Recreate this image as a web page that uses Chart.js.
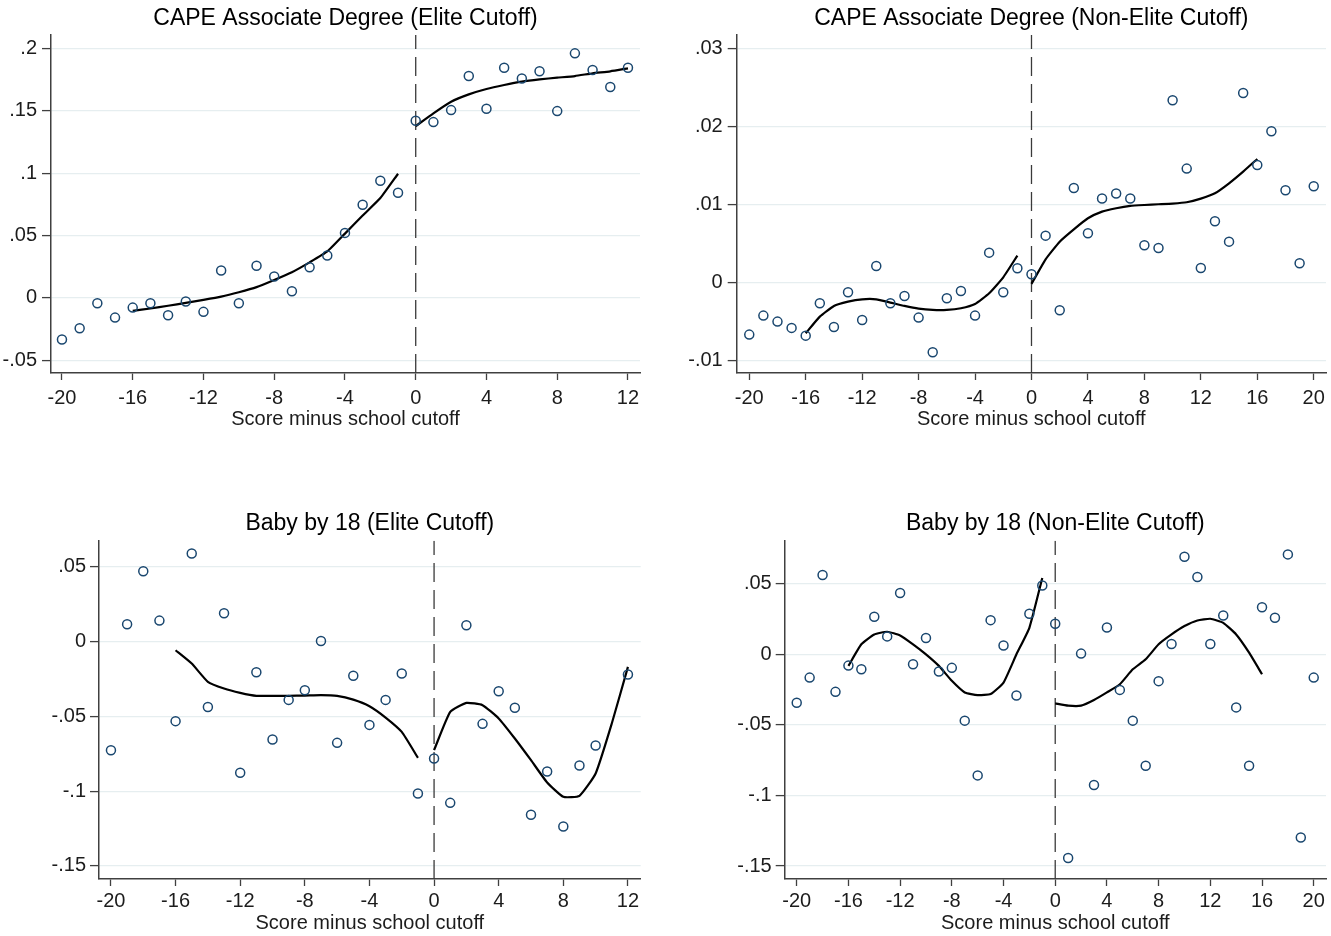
<!DOCTYPE html>
<html>
<head>
<meta charset="utf-8">
<script src="https://cdn.jsdelivr.net/npm/chart.js@4.4.1/dist/chart.umd.min.js"></script>
<style>
  html, body { margin: 0; padding: 0; background: #ffffff; overflow: hidden; }
  body { width: 1331px; height: 936px; position: relative; }
  canvas { position: absolute; }
</style>
</head>
<body>
<canvas id="c1" width="660" height="440" style="left:0px;top:0px;"></canvas>
<canvas id="c2" width="661" height="440" style="left:670px;top:0px;"></canvas>
<canvas id="c3" width="660" height="436" style="left:0px;top:500px;"></canvas>
<canvas id="c4" width="661" height="436" style="left:670px;top:500px;"></canvas>
<script>
// ---------------- DATA ----------------
const titles = [
  "CAPE Associate Degree (Elite Cutoff)",
  "CAPE Associate Degree (Non-Elite Cutoff)",
  "Baby by 18 (Elite Cutoff)",
  "Baby by 18 (Non-Elite Cutoff)"
];
const xAxisTitle = "Score minus school cutoff";

// Panel 1: CAPE Associate Degree (Elite Cutoff)
const capeEliteX = [-20,-19,-18,-17,-16,-15,-14,-13,-12,-11,-10,-9,-8,-7,-6,-5,-4,-3,-2,-1,0,1,2,3,4,5,6,7,8,9,10,11,12];
const capeEliteY = [-0.0334,-0.0243,-0.0043,-0.0158,-0.0078,-0.0043,-0.0139,-0.0029,-0.0112,0.0219,-0.0043,0.0257,0.0171,0.0053,0.0246,0.0340,0.0521,0.0746,0.0939,0.0842,
                    0.1420,0.1409,0.1505,0.1778,0.1516,0.1845,0.1759,0.1816,0.1497,0.1960,0.1826,0.1690,0.1845];
const capeEliteFitLX = [-16,-15,-14,-13,-12,-11,-10,-9,-8,-7,-6,-5,-4,-3,-2,-1];
const capeEliteFitLY = [-0.0104,-0.0085,-0.0063,-0.0040,-0.0016,0.0010,0.0045,0.0086,0.0144,0.0206,0.0285,0.0372,0.0515,0.0660,0.0800,0.0995];
const capeEliteFitRX = [0,1,2,3,4,5,6,7,8,9,10,11,12];
const capeEliteFitRY = [0.1377,0.1479,0.1572,0.1631,0.1674,0.1706,0.1733,0.1751,0.1765,0.1778,0.1800,0.1816,0.1840];
const capeEliteXTicks = [-20,-16,-12,-8,-4,0,4,8,12];
const capeEliteYTicks = [-0.05,0,0.05,0.1,0.15,0.2];
const capeEliteYLabels = ["-.05","0",".05",".1",".15",".2"];
const capeEliteXRange = [-20.62, 12.68];
const capeEliteYRange = [-0.0602, 0.2107];

// Panel 2: CAPE Associate Degree (Non-Elite Cutoff)
const capeNonX = [-20,-19,-18,-17,-16,-15,-14,-13,-12,-11,-10,-9,-8,-7,-6,-5,-4,-3,-2,-1,0,1,2,3,4,5,6,7,8,9,10,11,12,13,14,15,16,17,18,19,20];
const capeNonY = [-0.00671,-0.00427,-0.00504,-0.00585,-0.00684,-0.00269,-0.00573,-0.00128,-0.00483,0.00209,-0.00269,-0.00175,-0.00453,-0.00897,-0.00205,-0.00111,-0.00427,0.00380,-0.00128,0.00179,
                  0.00103,0.00598,-0.00359,0.01209,0.00628,0.01073,0.01137,0.01073,0.00474,0.00440,0.02333,0.01457,0.00184,0.00782,0.00521,0.02427,0.01504,0.01936,0.01179,0.00244,0.01231];
const capeNonFitLX = [-16,-15,-14,-13,-12,-11,-10,-9,-8,-7,-6,-5,-4,-3,-2,-1];
const capeNonFitLY = [-0.00654,-0.00440,-0.00303,-0.00248,-0.00218,-0.00218,-0.00260,-0.00303,-0.00338,-0.00355,-0.00355,-0.00333,-0.00278,-0.00141,0.00064,0.00342];
const capeNonFitRX = [0,1,2,3,4,5,6,7,8,9,10,11,12,13,14,15,16];
const capeNonFitRY = [-0.00021,0.00295,0.00521,0.00679,0.00821,0.00906,0.00949,0.00979,0.00991,0.01000,0.01009,0.01026,0.01073,0.01141,0.01269,0.01419,0.01581];
const capeNonXTicks = [-20,-16,-12,-8,-4,0,4,8,12,16,20];
const capeNonYTicks = [-0.01,0,0.01,0.02,0.03];
const capeNonYLabels = ["-.01","0",".01",".02",".03"];
const capeNonXRange = [-20.89, 20.87];
const capeNonYRange = [-0.01163, 0.0317];

// Panel 3: Baby by 18 (Elite Cutoff)
const babyEliteX = [-20,-19,-18,-17,-16,-15,-14,-13,-12,-11,-10,-9,-8,-7,-6,-5,-4,-3,-2,-1,0,1,2,3,4,5,6,7,8,9,10,12];
const babyEliteY = [-0.0726,0.0116,0.0470,0.0140,-0.0532,0.0588,-0.0437,0.0189,-0.0877,-0.0205,-0.0655,-0.0390,-0.0325,0.0004,-0.0677,-0.0229,-0.0557,-0.0390,-0.0214,-0.1016,
                    -0.0782,-0.1078,0.0109,-0.0550,-0.0332,-0.0443,-0.1158,-0.0869,-0.1236,-0.0829,-0.0695,-0.0220];
const babyEliteFitLX = [-16,-15,-14,-13,-12,-11,-10,-9,-8,-7,-6,-5,-4,-3,-2,-1];
const babyEliteFitLY = [-0.0058,-0.0147,-0.0269,-0.0314,-0.0343,-0.0363,-0.0363,-0.0363,-0.0361,-0.0358,-0.0363,-0.0388,-0.0432,-0.0508,-0.0604,-0.0777];
const babyEliteFitRX = [0,1,2,3,4,5,6,7,8,9,10,11,12];
const babyEliteFitRY = [-0.0726,-0.0470,-0.0410,-0.0425,-0.0514,-0.0648,-0.0793,-0.0942,-0.1038,-0.1031,-0.0882,-0.0548,-0.0169];
const babyEliteXTicks = [-20,-16,-12,-8,-4,0,4,8,12];
const babyEliteYTicks = [-0.15,-0.1,-0.05,0,0.05];
const babyEliteYLabels = ["-.15","-.1","-.05","0",".05"];
const babyEliteXRange = [-20.74, 12.79];
const babyEliteYRange = [-0.1587, 0.0674];

// Panel 4: Baby by 18 (Non-Elite Cutoff)
const babyNonX = [-20,-19,-18,-17,-16,-15,-14,-13,-12,-11,-10,-9,-8,-7,-6,-5,-4,-3,-2,-1,0,1,2,3,4,5,6,7,8,9,10,11,12,13,14,15,16,17,18,19,20];
const babyNonY = [-0.0343,-0.0165,0.0562,-0.0266,-0.0080,-0.0106,0.0266,0.0127,0.0435,-0.0071,0.0115,-0.0122,-0.0096,-0.0470,-0.0858,0.0242,0.0063,-0.0292,0.0287,0.0487,
                  0.0216,-0.1443,0.0005,-0.0926,0.0190,-0.0252,-0.0470,-0.0790,-0.0190,0.0073,0.0691,0.0548,0.0073,0.0275,-0.0376,-0.0790,0.0334,0.0259,0.0708,-0.1298,-0.0165];
const babyNonFitLX = [-16,-15,-14,-13,-12,-11,-10,-9,-8,-7,-6,-5,-4,-3,-2,-1];
const babyNonFitLY = [-0.0082,0.0071,0.0141,0.0160,0.0134,0.0071,0.0000,-0.0082,-0.0188,-0.0270,-0.0289,-0.0282,-0.0200,0.0000,0.0188,0.0541];
const babyNonFitRX = [0,1,2,3,4,5,6,7,8,9,10,11,12,13,14,15,16];
const babyNonFitRY = [-0.0348,-0.0364,-0.0364,-0.0324,-0.0270,-0.0212,-0.0106,-0.0035,0.0071,0.0141,0.0200,0.0240,0.0252,0.0223,0.0141,0.0012,-0.0141];
const babyNonXTicks = [-20,-16,-12,-8,-4,0,4,8,12,16,20];
const babyNonYTicks = [-0.15,-0.1,-0.05,0,0.05];
const babyNonYLabels = ["-.15","-.1","-.05","0",".05"];
const babyNonXRange = [-20.93, 20.95];
const babyNonYRange = [-0.1592, 0.0805];

const cutoffValue = 0;

// ---------------- STYLE ----------------
const FONT = "'Liberation Sans', Arial, Helvetica, sans-serif";
const markerColor = '#1a476f';
const fitColor = '#000000';
const axisColor = '#404040';
const gridColor = '#e6eef0';
const textColor = '#1c1c1c';

function zip(xs, ys) { return xs.map((x, i) => ({ x: x, y: ys[i] })); }

function makeChart(id, p) {
  const yTickVals = p.yTicks;
  const yTickLab = p.yLabels;
  const xTickVals = p.xTicks;
  return new Chart(document.getElementById(id), {
    type: 'scatter',
    data: {
      datasets: [
        { // cutoff line
          type: 'line',
          data: [{ x: cutoffValue, y: p.yRange[0] }, { x: cutoffValue, y: p.yRange[1] }],
          borderColor: '#3a3a3a', borderWidth: 1.3, borderDash: [19, 8],
          pointRadius: 0, fill: false, order: 3
        },
        {
          type: 'line', data: zip(p.fitLX, p.fitLY),
          borderColor: fitColor, borderWidth: 2.2, pointRadius: 0, tension: 0.15, fill: false, order: 2
        },
        {
          type: 'line', data: zip(p.fitRX, p.fitRY),
          borderColor: fitColor, borderWidth: 2.2, pointRadius: 0, tension: 0.15, fill: false, order: 2
        },
        {
          data: zip(p.x, p.y),
          pointStyle: 'circle', pointRadius: 4.5, borderWidth: 1.5,
          borderColor: markerColor, backgroundColor: 'rgba(255,255,255,0)', order: 1
        }
      ]
    },
    options: {
      responsive: false,
      animation: false,
      devicePixelRatio: 1,
      events: [],
      layout: { autoPadding: false, padding: { left: 0, right: p.padRight, top: 0, bottom: 0 } },
      plugins: {
        legend: { display: false },
        tooltip: { enabled: false },
        title: {
          display: true, text: p.title, fullSize: false, color: '#000000',
          font: { family: FONT, size: 23, weight: 'normal', lineHeight: 1.2 },
          padding: { top: p.titleTop, bottom: p.titleBottom }
        }
      },
      scales: {
        x: {
          type: 'linear', position: 'bottom',
          min: p.xRange[0], max: p.xRange[1],
          afterBuildTicks: s => { s.ticks = xTickVals.map(v => ({ value: v })); },
          afterFit: s => { s.height = p.xHeight; },
          grid: { drawOnChartArea: false, drawTicks: true, tickLength: 7, tickColor: axisColor, tickWidth: 1.3 },
          border: { display: true, color: axisColor, width: 1.5 },
          ticks: { color: textColor, font: { family: FONT, size: 20 }, padding: p.xTickPad, maxRotation: 0, autoSkip: false,
                   callback: v => String(v) },
          title: { display: true, text: xAxisTitle, color: textColor, font: { family: FONT, size: 20 },
                   padding: { top: 0, bottom: p.xTitlePad } }
        },
        y: {
          type: 'linear', position: 'left',
          min: p.yRange[0], max: p.yRange[1],
          afterBuildTicks: s => { s.ticks = yTickVals.map(v => ({ value: v })); },
          afterFit: s => { s.width = p.yWidth; },
          grid: { drawOnChartArea: true, color: gridColor, lineWidth: 1.2, drawTicks: true, tickLength: 9, tickColor: axisColor, tickWidth: 1.3 },
          border: { display: true, color: axisColor, width: 1.5 },
          ticks: { color: textColor, font: { family: FONT, size: 20 }, padding: p.yTickPad, autoSkip: false,
                   callback: (v) => { const i = yTickVals.findIndex(t => Math.abs(t - v) < 1e-9); return i >= 0 ? yTickLab[i] : ''; } }
        }
      }
    }
  });
}

makeChart('c1', {
  title: titles[0], x: capeEliteX, y: capeEliteY,
  fitLX: capeEliteFitLX, fitLY: capeEliteFitLY, fitRX: capeEliteFitRX, fitRY: capeEliteFitRY,
  xTicks: capeEliteXTicks, yTicks: capeEliteYTicks, yLabels: capeEliteYLabels,
  xRange: capeEliteXRange, yRange: capeEliteYRange,
  padRight: 20, yWidth: 51, xHeight: 67, titleTop: 4.7, titleBottom: 2.7, xTickPad: 6, xTitlePad: 8.5, yTickPad: 5
});
makeChart('c2', {
  title: titles[1], x: capeNonX, y: capeNonY,
  fitLX: capeNonFitLX, fitLY: capeNonFitLY, fitRX: capeNonFitRX, fitRY: capeNonFitRY,
  xTicks: capeNonXTicks, yTicks: capeNonYTicks, yLabels: capeNonYLabels,
  xRange: capeNonXRange, yRange: capeNonYRange,
  padRight: 5, yWidth: 66.7, xHeight: 67, titleTop: 4.7, titleBottom: 2.7, xTickPad: 6, xTitlePad: 8.5, yTickPad: 5
});
makeChart('c3', {
  title: titles[2], x: babyEliteX, y: babyEliteY,
  fitLX: babyEliteFitLX, fitLY: babyEliteFitLY, fitRX: babyEliteFitRX, fitRY: babyEliteFitRY,
  xTicks: babyEliteXTicks, yTicks: babyEliteYTicks, yLabels: babyEliteYLabels,
  xRange: babyEliteXRange, yRange: babyEliteYRange,
  padRight: 19.3, yWidth: 99, xHeight: 57, titleTop: 9.7, titleBottom: 3.4, xTickPad: 3, xTitlePad: 1, yTickPad: 4
});
makeChart('c4', {
  title: titles[3], x: babyNonX, y: babyNonY,
  fitLX: babyNonFitLX, fitLY: babyNonFitLY, fitRX: babyNonFitRX, fitRY: babyNonFitRY,
  xTicks: babyNonXTicks, yTicks: babyNonYTicks, yLabels: babyNonYLabels,
  xRange: babyNonXRange, yRange: babyNonYRange,
  padRight: 5, yWidth: 114.7, xHeight: 57, titleTop: 9.7, titleBottom: 3.4, xTickPad: 3, xTitlePad: 1, yTickPad: 4
});
</script>
</body>
</html>
